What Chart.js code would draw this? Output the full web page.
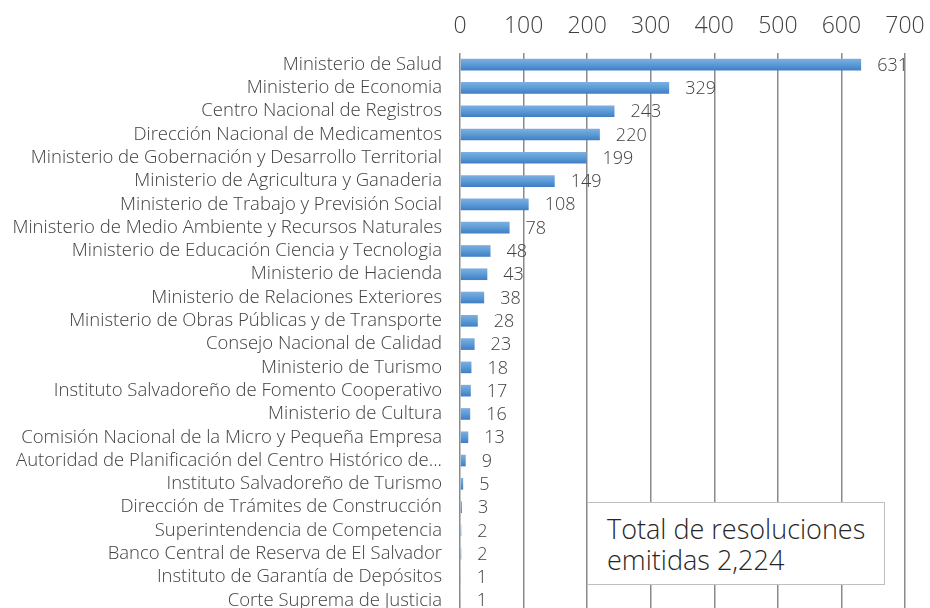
<!DOCTYPE html>
<html>
<head>
<meta charset="utf-8">
<script src="https://cdn.jsdelivr.net/npm/chart.js@4/dist/chart.umd.min.js"></script>
<style>
    html, body { margin: 0; padding: 0; background: #fff; overflow: hidden; }
    #wrap { position: relative; width: 930px; height: 608px; overflow: hidden; }
    #totalBox {
        position: absolute; left: 587px; top: 502px; width: 298px; height: 83px;
        background: #fff; border: 1px solid #bfbfbf; box-sizing: border-box;
        font-family: 'Open Sans', sans-serif; font-weight: 300; font-size: 27px; color: #262626;
        padding: 10px 0 0 19px; line-height: 31px;
    }
</style>
</head>
<body>
<div id="wrap">
    <canvas id="resChart" width="930" height="633"></canvas>
    <div id="totalBox">Total de resoluciones<br>emitidas 2,224</div>
</div>
<script>
const categories = [
    'Ministerio de Salud',
    'Ministerio de Economia',
    'Centro Nacional de Registros',
    'Dirección Nacional de Medicamentos',
    'Ministerio de Gobernación y Desarrollo Territorial',
    'Ministerio de Agricultura y Ganaderia',
    'Ministerio de Trabajo y Previsión Social',
    'Ministerio de Medio Ambiente y Recursos Naturales',
    'Ministerio de Educación Ciencia y Tecnologia',
    'Ministerio de Hacienda',
    'Ministerio de Relaciones Exteriores',
    'Ministerio de Obras Públicas y de Transporte',
    'Consejo Nacional de Calidad',
    'Ministerio de Turismo',
    'Instituto Salvadoreño de Fomento Cooperativo',
    'Ministerio de Cultura',
    'Comisión Nacional de la Micro y Pequeña Empresa',
    'Autoridad de Planificación del Centro Histórico de...',
    'Instituto Salvadoreño de Turismo',
    'Dirección de Trámites de Construcción',
    'Superintendencia de Competencia',
    'Banco Central de Reserva de El Salvador',
    'Instituto de Garantía de Depósitos',
    'Corte Suprema de Justicia'
];
const resoluciones = [631, 329, 243, 220, 199, 149, 108, 78, 48, 43, 38, 28, 23, 18, 17, 16, 13, 9, 5, 3, 2, 2, 1, 1];
const xTicks = [0, 100, 200, 300, 400, 500, 600, 700];

const FONT = "'Open Sans', sans-serif";

// gradient per bar, light on top, darker at the bottom
function barGradient(context) {
    const chart = context.chart;
    const yScale = chart.scales.y;
    if (!yScale || context.dataIndex === undefined) return '#5b9bd5';
    const cy = yScale.getPixelForValue(context.dataIndex);
    if (!isFinite(cy)) return '#5b9bd5';
    const g = chart.ctx.createLinearGradient(0, cy - 6, 0, cy + 6);
    g.addColorStop(0, '#7fb0e2');
    g.addColorStop(0.5, '#5b9bd5');
    g.addColorStop(1, '#3e7cc4');
    return g;
}

// draw the numbers to the right of each bar
const valueLabels = {
    id: 'valueLabels',
    afterDatasetsDraw(chart) {
        const ctx = chart.ctx;
        const meta = chart.getDatasetMeta(0);
        ctx.save();
        ctx.font = '300 18px ' + FONT;
        ctx.fillStyle = '#404040';
        ctx.textAlign = 'left';
        ctx.textBaseline = 'middle';
        meta.data.forEach((bar, i) => {
            ctx.fillText(String(resoluciones[i]), bar.x + 16, bar.y + 1);
        });
        ctx.restore();
    }
};

const ctx = document.getElementById('resChart').getContext('2d');
new Chart(ctx, {
    type: 'bar',
    data: {
        labels: categories,
        datasets: [{
            data: resoluciones,
            backgroundColor: barGradient,
            borderWidth: 0,
            barPercentage: 0.5,
            categoryPercentage: 1
        }]
    },
    options: {
        indexAxis: 'y',
        responsive: false,
        animation: false,
        layout: { padding: { top: 0, right: 0, left: 4, bottom: 0 } },
        plugins: { legend: { display: false }, tooltip: { enabled: false } },
        scales: {
            x: {
                position: 'top',
                min: 0,
                max: 700,
                afterBuildTicks: (axis) => { axis.ticks = xTicks.map(v => ({ value: v })); },
                afterFit: (axis) => { axis.paddingRight = 25; },
                grid: { color: '#8a8a8a', lineWidth: 1.5, drawTicks: false },
                border: { display: false },
                ticks: { color: '#404040', font: { family: FONT, size: 23, weight: 300, lineHeight: 1 }, padding: 15 }
            },
            y: {
                afterFit: (axis) => { axis.width = 456; },
                grid: { display: false },
                border: { display: false },
                ticks: { color: '#404040', font: { family: FONT, size: 18.5, weight: 300 }, padding: 10, autoSkip: false }
            }
        }
    },
    plugins: [valueLabels]
});
</script>
</body>
</html>
